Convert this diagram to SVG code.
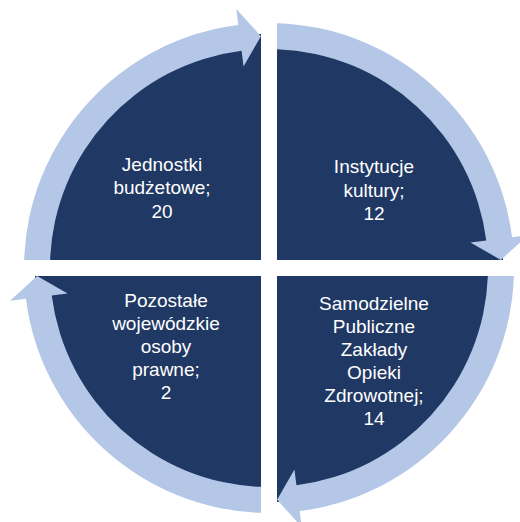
<svg xmlns="http://www.w3.org/2000/svg" width="520" height="522" viewBox="0 0 520 522">
  <defs>
    <style>
      .pie { fill: #1F3864; }
      .arrow { fill: #B4C7E7; }
      .lbl { font-family: "Liberation Sans", Arial, sans-serif; font-size: 19px; fill: #FFFFFF; text-anchor: middle; }
    </style>
    <path id="arc" d="M 24.15 260 A 245 245 0 0 1 238.29 24.93 L 236.29 9.06 L 260.90 36.14 L 243.56 66.60 L 241.55 50.73 A 219 219 0 0 0 50.13 260 Z"/>
  </defs>
  <rect width="520" height="522" fill="#FFFFFF"/>
  <g id="node-jednostki">
    <path class="pie" d="M261 260 L35 260 A226 226 0 0 1 261 34 Z"/>
    <text class="lbl" x="162" y="171">Jednostki</text>
    <text class="lbl" x="162" y="194">budżetowe;</text>
    <text class="lbl" x="162" y="218">20</text>
  </g>
  <g id="node-instytucje">
    <path class="pie" d="M277 260 L277 34 A226 226 0 0 1 503 260 Z"/>
    <text class="lbl" x="374" y="173">Instytucje</text>
    <text class="lbl" x="374" y="197">kultury;</text>
    <text class="lbl" x="374" y="220">12</text>
  </g>
  <g id="node-spzoz">
    <path class="pie" d="M277 276 L503 276 A226 226 0 0 1 277 502 Z"/>
    <text class="lbl" x="374" y="310">Samodzielne</text>
    <text class="lbl" x="374" y="333">Publiczne</text>
    <text class="lbl" x="374" y="356">Zakłady</text>
    <text class="lbl" x="374" y="379">Opieki</text>
    <text class="lbl" x="374" y="402">Zdrowotnej;</text>
    <text class="lbl" x="374" y="425">14</text>
  </g>
  <g id="node-pozostale">
    <path class="pie" d="M261 276 L261 502 A226 226 0 0 1 35 276 Z"/>
    <text class="lbl" x="166" y="307">Pozostałe</text>
    <text class="lbl" x="166" y="330">wojewódzkie</text>
    <text class="lbl" x="166" y="353">osoby</text>
    <text class="lbl" x="166" y="376">prawne;</text>
    <text class="lbl" x="166" y="399">2</text>
  </g>
  <g id="connectors">
    <use href="#arc" class="arrow"/>
    <use href="#arc" class="arrow" transform="rotate(90 269 268)"/>
    <use href="#arc" class="arrow" transform="rotate(180 269 268)"/>
    <use href="#arc" class="arrow" transform="rotate(270 269 268)"/>
  </g>
</svg>
